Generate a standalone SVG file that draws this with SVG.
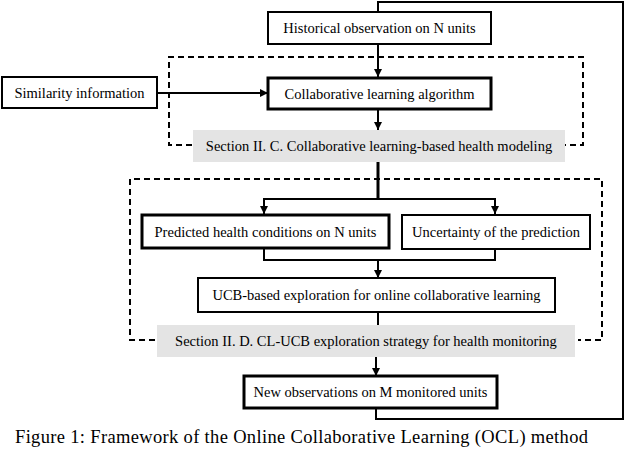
<svg xmlns="http://www.w3.org/2000/svg" width="626" height="466" viewBox="0 0 626 466">
<style>
  .box{fill:#fff;stroke:#000;stroke-width:2}
  .thick{stroke-width:3}
  .gray{fill:#e4e4e4;stroke:none}
  .t{font-family:"Liberation Serif","Times New Roman",serif;font-size:14.5px;fill:#000;text-anchor:middle}
  .ln{fill:none;stroke:#000;stroke-width:2}
  .dash{fill:none;stroke:#000;stroke-width:2;stroke-dasharray:6,4}
  .cap{font-family:"Liberation Serif","Times New Roman",serif;font-size:18.5px;fill:#000}
</style>
<defs>
  <marker id="ah" viewBox="0 0 8 8" refX="8" refY="4" markerWidth="4" markerHeight="4" orient="auto" markerUnits="strokeWidth">
    <path d="M0,0 L8,4 L0,8 z" fill="#000"/>
  </marker>
</defs>
<rect width="626" height="466" fill="#fff"/>
<g id="connectors">
  <polyline class="dash" points="192,145 169,145 169,57 583,57 583,145 565,145"/>
  <polyline class="dash" points="155,340 130,340 130,179 602,179 602,340 578,340"/>
  <polyline class="ln" points="376,408 376,419 623,419 623,2 378,2 378,12"/>
  <line class="ln" x1="378" y1="44" x2="378" y2="77" marker-end="url(#ah)"/>
  <line class="ln" x1="157" y1="93" x2="268" y2="93" marker-end="url(#ah)"/>
  <line class="ln" x1="378" y1="109" x2="378" y2="130" marker-end="url(#ah)"/>
  <line class="ln" x1="378" y1="162" x2="378" y2="199" style="stroke-width:3"/>
  <line class="ln" x1="264" y1="199" x2="495" y2="199"/>
  <line class="ln" x1="264" y1="198" x2="264" y2="214" marker-end="url(#ah)"/>
  <line class="ln" x1="495" y1="198" x2="495" y2="214" marker-end="url(#ah)"/>
  <polyline class="ln" points="264,248 264,260 495,260 495,250"/>
  <line class="ln" x1="378" y1="260" x2="378" y2="278" marker-end="url(#ah)"/>
  <line class="ln" x1="378" y1="312" x2="378" y2="325"/>
  <line class="ln" x1="376" y1="357" x2="376" y2="376" marker-end="url(#ah)"/>
</g>
<g id="historical">
  <rect class="box" x="268" y="12" width="223" height="32"/>
  <text class="t" x="379.5" y="33">Historical observation on N units</text>
</g>
<g id="similarity">
  <rect class="box" x="2" y="77" width="155" height="31"/>
  <text class="t" x="79.5" y="97.5">Similarity information</text>
</g>
<g id="collab">
  <rect class="box thick" x="268" y="78" width="223" height="31"/>
  <text class="t" x="379.5" y="98.5">Collaborative learning algorithm</text>
</g>
<g id="section-c">
  <rect class="gray" x="193" y="130" width="372" height="32"/>
  <text class="t" x="379" y="151">Section II. C. Collaborative learning-based health modeling</text>
</g>
<g id="predicted">
  <rect class="box thick" x="142" y="215" width="247" height="33"/>
  <text class="t" x="265.5" y="236.5">Predicted health conditions on N units</text>
</g>
<g id="uncertainty">
  <rect class="box" x="402" y="215" width="188" height="34"/>
  <text class="t" x="496" y="237">Uncertainty of the prediction</text>
</g>
<g id="ucb">
  <rect class="box" x="198" y="278" width="357" height="34"/>
  <text class="t" x="376.5" y="300">UCB-based exploration for online collaborative learning</text>
</g>
<g id="section-d">
  <rect class="gray" x="157" y="325" width="418" height="32"/>
  <text class="t" x="366" y="346">Section II. D. CL-UCB exploration strategy for health monitoring</text>
</g>
<g id="newobs">
  <rect class="box thick" x="244" y="376" width="253" height="32"/>
  <text class="t" x="370.5" y="397">New observations on M monitored units</text>
</g>
<text class="cap" x="15" y="443" textLength="573" lengthAdjust="spacing">Figure 1: Framework of the Online Collaborative Learning (OCL) method</text>
</svg>
